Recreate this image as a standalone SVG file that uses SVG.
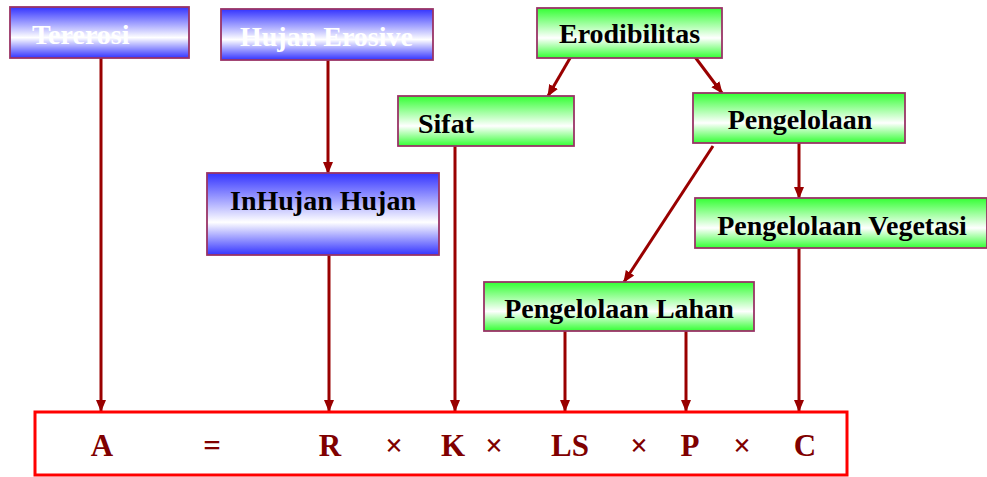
<svg xmlns="http://www.w3.org/2000/svg" width="987" height="477" viewBox="0 0 987 477">
<defs>
<linearGradient id="gBlue" x1="0" y1="0" x2="0" y2="1">
<stop offset="0" stop-color="#3333ff"/>
<stop offset="0.6" stop-color="#ffffff"/>
<stop offset="1" stop-color="#3333ff"/>
</linearGradient>
<linearGradient id="gGreen" x1="0" y1="0" x2="0" y2="1">
<stop offset="0" stop-color="#33ff33"/>
<stop offset="0.6" stop-color="#ffffff"/>
<stop offset="1" stop-color="#33ff33"/>
</linearGradient>
<marker id="ah" markerUnits="userSpaceOnUse" markerWidth="12" markerHeight="12" viewBox="0 0 12 12" refX="11" refY="6" orient="auto">
<path d="M0,1 L12,6 L0,11 Z" fill="#990000"/>
</marker>
<style>
.blue{fill:url(#gBlue);stroke:#993366;stroke-width:1.8}
.green{fill:url(#gGreen);stroke:#993366;stroke-width:1.8}
.t{font-family:"Liberation Serif","Times New Roman",serif;font-weight:bold;font-size:28px;fill:#000}
.tw{fill:#ffffff}
.c{stroke:#990000;stroke-width:3;fill:none;marker-end:url(#ah)}
.f{font-family:"Liberation Serif","Times New Roman",serif;font-weight:bold;font-size:31px;fill:#800000;text-anchor:middle}
</style>
</defs>
<g id="connectors">
<line class="c" x1="101" y1="55" x2="101" y2="411"/>
<line class="c" x1="328" y1="58" x2="328" y2="173"/>
<line class="c" x1="329" y1="227" x2="329" y2="411"/>
<line class="c" x1="573" y1="53" x2="548" y2="96"/>
<line class="c" x1="692" y1="53" x2="722" y2="93"/>
<line class="c" x1="455" y1="140" x2="455" y2="411"/>
<line class="c" x1="713" y1="146" x2="624" y2="282"/>
<line class="c" x1="799" y1="143" x2="799" y2="198"/>
<line class="c" x1="565" y1="325" x2="565" y2="411"/>
<line class="c" x1="686" y1="328" x2="686" y2="411"/>
<line class="c" x1="799" y1="248" x2="799" y2="411"/>
</g>
<g id="tererosi">
<rect class="blue" x="10" y="7" width="179" height="51"/>
<text class="t tw" x="32" y="44">Tererosi</text>
</g>
<g id="hujan-erosive">
<rect class="blue" x="221" y="9" width="212" height="51"/>
<text class="t tw" x="240" y="46">Hujan Erosive</text>
</g>
<g id="erodibilitas">
<rect class="green" x="537" y="8" width="185" height="50"/>
<text class="t" x="629.5" y="43" text-anchor="middle">Erodibilitas</text>
</g>
<g id="sifat">
<rect class="green" x="398" y="96" width="176" height="50"/>
<text class="t" x="418" y="133">Sifat</text>
</g>
<g id="pengelolaan">
<rect class="green" x="693" y="93" width="212" height="50"/>
<text class="t" x="800" y="129" text-anchor="middle">Pengelolaan</text>
</g>
<g id="inhujan-hujan">
<rect class="blue" x="207" y="173" width="232" height="82"/>
<text class="t" x="323" y="210" text-anchor="middle">InHujan Hujan</text>
</g>
<g id="pengelolaan-vegetasi">
<rect class="green" x="695" y="198" width="292" height="50"/>
<text class="t" x="842" y="235" text-anchor="middle">Pengelolaan Vegetasi</text>
</g>
<g id="pengelolaan-lahan">
<rect class="green" x="484" y="282" width="270" height="49"/>
<text class="t" x="619" y="318" text-anchor="middle">Pengelolaan Lahan</text>
</g>
<g id="formula">
<rect x="35" y="412" width="812" height="63" fill="#ffffff" stroke="#ff0000" stroke-width="3"/>
<text class="f" x="102" y="456">A</text>
<text class="f" x="212" y="456">=</text>
<text class="f" x="330" y="456">R</text>
<text class="f" x="394" y="456">×</text>
<text class="f" x="453" y="456">K</text>
<text class="f" x="494" y="456">×</text>
<text class="f" x="570" y="456">LS</text>
<text class="f" x="639" y="456">×</text>
<text class="f" x="690" y="456">P</text>
<text class="f" x="742" y="456">×</text>
<text class="f" x="805" y="456">C</text>
</g>
</svg>
